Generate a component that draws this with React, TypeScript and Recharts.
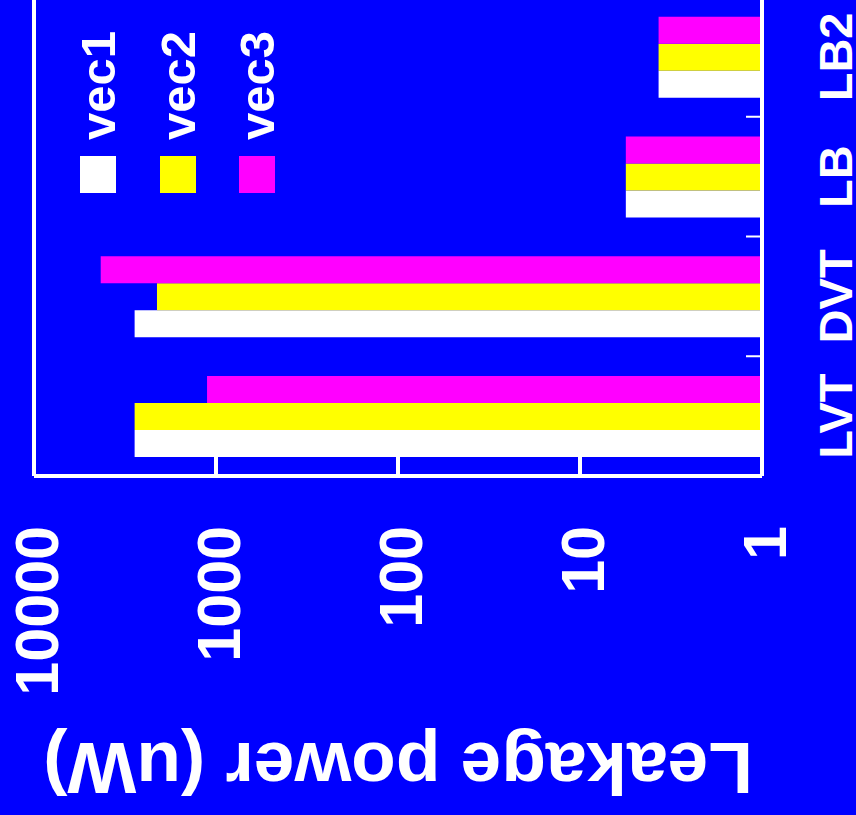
import { BarChart, Bar, XAxis, YAxis, Legend, ReferenceLine } from "recharts";

const categories = ["LVT", "DVT", "LB", "LB2"];
const vec1 = [2800, 2800, 5.6, 3.7];
const vec2 = [2800, 2110, 5.6, 3.7];
const vec3 = [1120, 4300, 5.6, 3.7];
const powerTicks = [1, 10, 100, 1000, 10000];

const seriesNames = ["vec1", "vec2", "vec3"];
const seriesColors = ["#ffffff", "#ffff00", "#ff00ff"];

const data = categories.map((name, i) => ({
  name,
  vec1: vec1[i],
  vec2: vec2[i],
  vec3: vec3[i],
}));

const FONT = "'Liberation Sans', Arial, Helvetica, sans-serif";
const BLUE = "#0000ff";

// the plot is drawn upright and the whole thing is turned a quarter left
const PLOT_W = 818;
const PLOT_H = 856;

function CategoryTick(props: any) {
  const { x, y, payload, index, width, visibleTicksCount } = props;
  const half = payload.offset || width / visibleTicksCount / 2;
  return (
    <g>
      {index > 0 && (
        <line x1={x - half} x2={x - half} y1={y} y2={y - 16} stroke="#fff" strokeWidth={2} />
      )}
      <text
        x={x}
        y={y + 90}
        textAnchor="middle"
        fill="#fff"
        fontSize={47}
        fontWeight="bold"
        fontFamily={FONT}
      >
        {payload.value}
      </text>
    </g>
  );
}

function PowerTick(props: any) {
  const { x, y, payload } = props;
  return (
    <g>
      <line x1={x} x2={x + 19} y1={y} y2={y} stroke="#fff" strokeWidth={4} />
      <text
        x={x - 50}
        y={y + 24}
        textAnchor="end"
        fill="#fff"
        fontSize={61}
        fontWeight="bold"
        fontFamily={FONT}
      >
        {payload.value}
      </text>
    </g>
  );
}

const renderTitle = (props: any) => {
  const vb = props.viewBox || { x: 0, y: 34, width: 339, height: 728 };
  const cx = vb.x + 72;
  const cy = vb.y + vb.height / 2;
  return (
    <text
      x={cx}
      y={cy}
      transform={`rotate(-90, ${cx}, ${cy})`}
      textAnchor="middle"
      fill="#fff"
      fontSize={73}
      fontWeight="bold"
      fontFamily={FONT}
    >
      Leakage power (uW)
    </text>
  );
};

function LegendBox(props: any) {
  const items = props.payload || [];
  return (
    <div style={{ position: "relative", width: 190, height: 200 }}>
      {items.map((item: any, i: number) => (
        <div key={item.value}>
          <div
            style={{
              position: "absolute",
              left: 0,
              top: i * 79.5,
              width: 37,
              height: 36,
              background: item.color,
            }}
          />
          <div
            style={{
              position: "absolute",
              left: 53,
              top: i * 79.5 - 6,
              fontSize: 49,
              lineHeight: "49px",
              fontWeight: "bold",
              fontFamily: FONT,
              color: "#fff",
              whiteSpace: "nowrap",
            }}
          >
            {item.value}
          </div>
        </div>
      ))}
    </div>
  );
}

export default function App() {
  return (
    <div
      style={{
        position: "fixed",
        left: 0,
        top: 0,
        width: 856,
        height: 815,
        background: BLUE,
        overflow: "hidden",
      }}
    >
      <div
        style={{
          position: "absolute",
          left: 0,
          top: 0,
          width: PLOT_W,
          height: PLOT_H,
          transformOrigin: "0 0",
          transform: "translate(0px, 815px) rotate(-90deg)",
        }}
      >
        <BarChart
          width={PLOT_W}
          height={PLOT_H}
          data={data}
          margin={{ top: 34, right: 0, bottom: 0, left: 0 }}
          barSize={27}
          barGap={0}
        >
          <XAxis
            dataKey="name"
            height={94}
            axisLine={{ stroke: "#fff", strokeWidth: 4 }}
            tickLine={false}
            tickSize={0}
            tickMargin={0}
            interval={0}
            tick={<CategoryTick />}
          />
          <YAxis
            type="number"
            scale="log"
            domain={[1, 10000]}
            ticks={powerTicks}
            allowDataOverflow
            interval={0}
            width={339}
            axisLine={{ stroke: "#fff", strokeWidth: 4 }}
            tickLine={false}
            tickSize={0}
            tickMargin={0}
            tick={<PowerTick />}
            label={{ content: renderTitle }}
          />
          <ReferenceLine y={10000} stroke="#fff" strokeWidth={4} />
          <Legend
            layout="horizontal"
            verticalAlign="middle"
            align="center"
            wrapperStyle={{ left: 622, top: 80, width: 190, height: 200 }}
            content={<LegendBox />}
          />
          {seriesNames.map((name, i) => (
            <Bar
              key={name}
              dataKey={name}
              name={name}
              fill={seriesColors[i]}
              isAnimationActive={false}
            />
          ))}
        </BarChart>
      </div>
    </div>
  );
}
